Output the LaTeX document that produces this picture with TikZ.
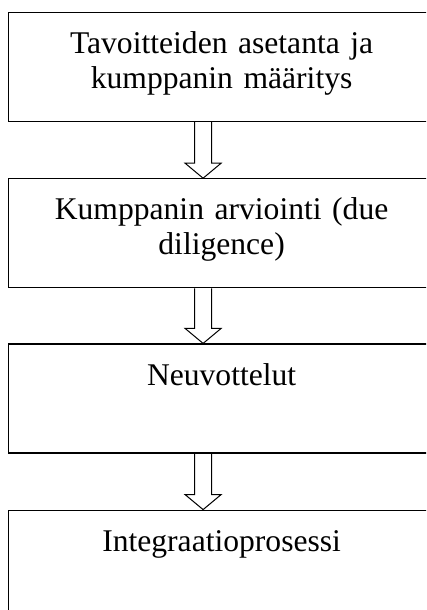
\documentclass[tikz,border=0pt]{standalone}
\usepackage{fontspec}
\setmainfont{Liberation Serif}
\usetikzlibrary{calc,positioning}

\begin{document}
\begin{tikzpicture}[
    x=1pt,
    y=1pt,
    line join=miter,
    stagebox/.style={
        draw,
        line width=1.2pt,
        minimum width=426pt,
        text width=426pt,
        inner sep=0pt,
        align=center,
        text height=41pt,
        text depth=68pt,
        font=\fontsize{31.6}{35}\selectfont
    },
    blockarrow/.style={draw, line width=1pt}
]

% -------------------------------------------------
% Page frame (the boxes run off to the right and bottom)
% -------------------------------------------------
\clip (0,0) rectangle (426,-610);

% -------------------------------------------------
% Stages
% -------------------------------------------------
\node[stagebox, anchor=north west] (b1) at (8,-12)
{Tavoitteiden asetanta ja\\kumppanin määritys};
\node[stagebox, below=56pt of b1] (b2)
{Kumppanin arviointi (due\\diligence)};
\node[stagebox, below=55pt of b2] (b3)
{Neuvottelut};
\node[stagebox, below=56pt of b3] (b4)
{Integraatioprosessi};

% -------------------------------------------------
% Hollow block arrows
% -------------------------------------------------
\foreach \up/\dn in {b1/b2,b2/b3,b3/b4} {
    \draw[blockarrow]
        ($(\up.south)+(-27,0)$) --
        ($(\dn.north)+(-27,15)$) --
        ($(\dn.north)+(-36.5,15)$) --
        ($(\dn.north)+(-18.5,0)$) --
        ($(\dn.north)+(-0.5,15)$) --
        ($(\dn.north)+(-10,15)$) --
        ($(\up.south)+(-10,0)$);
}

\end{tikzpicture}
\end{document}
